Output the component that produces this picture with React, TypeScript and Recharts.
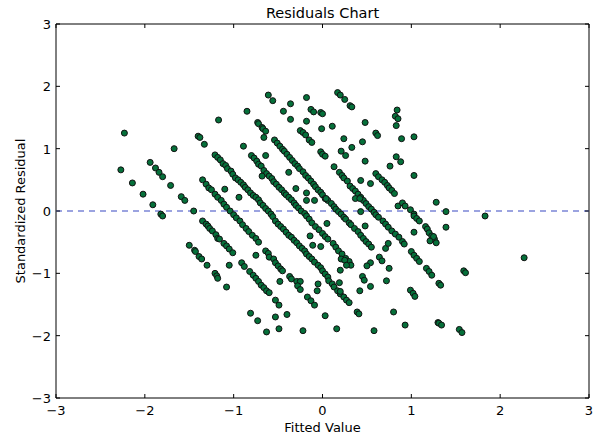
import { ReferenceArea, ReferenceLine, Scatter, ScatterChart, XAxis, YAxis } from "recharts";

// residual bands, [fitted, standardized residual]
const bandA: [number, number][] = [
  [-2.27, 0.66], [-2.14, 0.45], [-2.02, 0.27], [-1.91, 0.1], [-1.82, -0.05], [-1.8, -0.08],
  [-1.5, -0.55], [-1.44, -0.63], [-1.43, -0.65], [-1.39, -0.73], [-1.36, -0.77], [-1.3, -0.87],
  [-1.21, -1.0], [-1.19, -1.04], [-1.18, -1.08], [-1.08, -1.22], [-0.81, -1.64], [-0.73, -1.76],
  [-0.63, -1.94],
];

const bandB: [number, number][] = [
  [-1.94, 0.78], [-1.88, 0.69], [-1.84, 0.62], [-1.8, 0.55], [-1.71, 0.41], [-1.59, 0.23],
  [-1.55, 0.17], [-1.45, 0.0], [-1.35, -0.16], [-1.31, -0.21], [-1.29, -0.24], [-1.27, -0.28],
  [-1.24, -0.32], [-1.2, -0.38], [-1.18, -0.44], [-1.16, -0.45], [-1.11, -0.52], [-1.08, -0.56],
  [-1.05, -0.61], [-1.01, -0.67], [-0.91, -0.83], [-0.88, -0.89], [-0.82, -0.97], [-0.78, -1.03],
  [-0.75, -1.08], [-0.72, -1.13], [-0.69, -1.19], [-0.66, -1.23], [-0.63, -1.28], [-0.6, -1.31],
  [-0.53, -1.43], [-0.49, -1.51], [-0.4, -1.66], [-0.22, -1.92],
];

const bandC: [number, number][] = [
  [-1.67, 1.0], [-1.35, 0.5], [-1.31, 0.43], [-1.28, 0.37], [-1.25, 0.34], [-1.21, 0.27],
  [-1.18, 0.22], [-1.14, 0.17], [-1.11, 0.11], [-1.08, 0.06], [-1.04, 0.0], [-1.0, -0.06],
  [-0.97, -0.11], [-0.93, -0.16], [-0.9, -0.22], [-0.86, -0.28], [-0.83, -0.33], [-0.79, -0.39],
  [-0.75, -0.44], [-0.72, -0.5], [-0.64, -0.64], [-0.61, -0.68], [-0.6, -0.74], [-0.55, -0.77],
  [-0.53, -0.83], [-0.5, -0.88], [-0.47, -0.93], [-0.45, -0.96], [-0.37, -1.05], [-0.35, -1.09],
  [-0.29, -1.13], [-0.25, -1.13], [-0.28, -1.2], [-0.25, -1.26], [-0.17, -1.38], [-0.13, -1.44],
  [-0.09, -1.51], [0.03, -1.68], [0.16, -1.89],
];

const bandD: [number, number][] = [
  [-1.4, 1.2], [-1.38, 1.18], [-1.33, 1.07], [-1.21, 0.9], [-1.18, 0.86], [-1.15, 0.82],
  [-1.12, 0.76], [-1.09, 0.73], [-1.07, 0.68], [-1.03, 0.64], [-1.01, 0.59], [-0.98, 0.53],
  [-0.95, 0.5], [-0.92, 0.46], [-0.89, 0.42], [-0.87, 0.38], [-0.84, 0.34], [-0.81, 0.29],
  [-0.78, 0.25], [-0.75, 0.22], [-0.72, 0.18], [-0.7, 0.13], [-0.67, 0.09], [-0.64, 0.04],
  [-0.61, 0.0], [-0.58, -0.05], [-0.56, -0.09], [-0.53, -0.16], [-0.5, -0.21], [-0.47, -0.25],
  [-0.44, -0.29], [-0.41, -0.34], [-0.38, -0.39], [-0.35, -0.42], [-0.32, -0.47], [-0.29, -0.51],
  [-0.26, -0.56], [-0.23, -0.6], [-0.2, -0.64], [-0.18, -0.69], [-0.15, -0.73], [-0.12, -0.77],
  [-0.09, -0.82], [-0.05, -0.87], [-0.02, -0.91], [0.0, -0.96], [0.03, -1.01], [0.06, -1.06],
  [0.07, -1.12], [0.11, -1.17], [0.13, -1.22], [0.17, -1.28], [0.2, -1.33], [0.24, -1.38],
  [0.27, -1.43], [0.3, -1.47], [0.39, -1.62], [0.41, -1.65], [0.58, -1.92],
];

const bandE: [number, number][] = [
  [-1.17, 1.46], [-0.89, 1.04], [-0.8, 0.89], [-0.77, 0.85], [-0.74, 0.8], [-0.72, 0.75],
  [-0.69, 0.72], [-0.66, 0.65], [-0.63, 0.6], [-0.6, 0.56], [-0.57, 0.52], [-0.55, 0.47],
  [-0.52, 0.43], [-0.49, 0.38], [-0.46, 0.34], [-0.43, 0.29], [-0.41, 0.26], [-0.38, 0.22],
  [-0.35, 0.18], [-0.32, 0.13], [-0.3, 0.09], [-0.27, 0.05], [-0.24, 0.0], [-0.2, -0.04],
  [-0.18, -0.08], [-0.15, -0.13], [-0.12, -0.19], [-0.08, -0.25], [-0.04, -0.3], [0.0, -0.36],
  [0.03, -0.41], [0.06, -0.45], [0.12, -0.52], [0.15, -0.58], [0.18, -0.64], [0.22, -0.69],
  [0.26, -0.76], [0.3, -0.81], [0.32, -0.87], [0.21, -0.77], [0.45, -1.05], [0.47, -1.11],
  [0.54, -1.21], [0.8, -1.62], [0.93, -1.83],
];

const bandF: [number, number][] = [
  [-0.85, 1.6], [-0.73, 1.42], [-0.72, 1.4], [-0.68, 1.34], [-0.67, 1.32], [-0.64, 1.28],
  [-0.54, 1.14], [-0.51, 1.09], [-0.48, 1.04], [-0.45, 0.99], [-0.43, 0.96], [-0.4, 0.91],
  [-0.37, 0.86], [-0.34, 0.81], [-0.31, 0.76], [-0.28, 0.72], [-0.26, 0.68], [-0.22, 0.63],
  [-0.19, 0.57], [-0.16, 0.53], [-0.13, 0.48], [-0.1, 0.43], [-0.08, 0.39], [-0.05, 0.34],
  [-0.02, 0.3], [0.0, 0.26], [0.03, 0.2], [0.06, 0.17], [0.1, 0.12], [0.13, 0.07],
  [0.15, 0.03], [0.18, -0.01], [0.21, -0.05], [0.24, -0.1], [0.26, -0.13], [0.3, -0.19],
  [0.32, -0.22], [0.36, -0.28], [0.4, -0.33], [0.43, -0.39], [0.46, -0.44], [0.49, -0.49],
  [0.52, -0.53], [0.55, -0.58], [0.64, -0.74], [0.67, -0.8], [0.75, -0.92], [0.99, -1.27],
  [1.02, -1.32], [1.04, -1.37], [1.3, -1.79], [1.31, -1.8], [1.34, -1.83], [1.54, -1.9],
  [1.57, -1.95],
];

const bandG: [number, number][] = [
  [-0.61, 1.86], [-0.56, 1.77], [-0.44, 1.6], [-0.25, 1.29], [-0.22, 1.26], [-0.19, 1.22],
  [-0.15, 1.14], [-0.12, 1.1], [-0.02, 0.95], [0.0, 0.91], [0.03, 0.88], [0.13, 0.71],
  [0.19, 0.62], [0.22, 0.57], [0.24, 0.53], [0.28, 0.48], [0.31, 0.4], [0.34, 0.36],
  [0.37, 0.32], [0.4, 0.27], [0.43, 0.22], [0.46, 0.17], [0.49, 0.12], [0.52, 0.07],
  [0.55, 0.03], [0.58, -0.02], [0.6, -0.06], [0.63, -0.1], [0.68, -0.16], [0.71, -0.21],
  [0.74, -0.26], [0.78, -0.32], [0.82, -0.37], [0.86, -0.42], [0.9, -0.49], [0.92, -0.53],
  [1.0, -0.65], [1.03, -0.71], [1.06, -0.76], [1.09, -0.81], [1.17, -0.92], [1.2, -0.97],
  [1.23, -1.03], [1.31, -1.16], [1.33, -1.19], [0.37, 0.2], [0.42, 0.2],
];

const bandH: [number, number][] = [
  [-0.18, 1.82], [-0.13, 1.63], [-0.1, 1.59], [-0.02, 1.58], [0.0, 1.56], [0.11, 1.36],
  [0.24, 1.16], [0.33, 1.02], [0.48, 0.8], [0.6, 0.6], [0.63, 0.55], [0.67, 0.5],
  [0.7, 0.46], [0.73, 0.41], [0.75, 0.37], [0.78, 0.33], [0.81, 0.28], [0.85, 0.08],
  [0.9, 0.13], [0.93, 0.08], [0.99, 0.02], [1.03, -0.05], [1.03, -0.08], [1.06, -0.12],
  [1.09, -0.16], [1.16, -0.25], [1.18, -0.29], [1.2, -0.35], [1.23, -0.4], [1.26, -0.45],
  [1.28, -0.51], [1.21, -0.48], [1.25, -0.41], [1.59, -0.96], [1.61, -0.99],
];

const bandI: [number, number][] = [
  [0.17, 1.9], [0.2, 1.86], [0.25, 1.79], [0.31, 1.69], [0.33, 1.67], [0.48, 1.42],
  [0.6, 1.25], [0.62, 1.21], [0.83, 0.87], [0.88, 0.79], [1.03, 0.57], [1.28, 0.14],
  [1.39, -0.01], [1.39, -0.26],
];

const bandJ: [number, number][] = [
  [0.84, 1.62], [0.82, 1.52], [0.85, 1.48], [0.83, 1.37], [0.89, 1.16], [1.03, 1.19],
  [1.83, -0.08], [2.27, -0.75],
];

const scattered: [number, number][] = [
  [-2.23, 1.25], [-1.05, -0.87], [-0.49, -1.89], [-1.1, 0.35], [-0.94, 0.22], [-0.75, -0.71],
  [-0.48, -1.13], [-0.05, -1.17], [-0.06, -1.28], [-0.53, -1.7], [0.19, -1.15], [0.2, -1.29],
  [0.25, -0.79], [0.27, -0.87], [0.2, -0.95], [-0.68, 0.56], [-0.3, 0.36], [-0.18, 0.29],
  [-0.18, 0.17], [-0.09, 0.17], [0.04, 0.2], [0.05, -0.2], [-0.14, -0.4], [-0.11, -0.55],
  [-0.02, -0.57], [-0.66, 1.18], [-0.64, 0.89], [-0.38, 0.62], [0.72, -1.12], [0.42, -1.28],
  [0.48, -0.24], [0.54, -0.83], [0.5, -0.88], [0.71, -0.6], [0.74, -0.52], [0.43, -0.01],
  [0.21, 0.96], [0.26, 0.89], [0.45, 1.11], [-0.01, 1.32], [0.76, 0.72], [0.43, 0.49],
  [0.54, 0.44], [1.03, -0.34], [-0.36, 1.72], [-0.36, 1.47], [-0.18, 1.44],
];

const xTicks = [-3, -2, -1, 0, 1, 2, 3];
const yTicks = [-3, -2, -1, 0, 1, 2, 3];

const points = [
  ...bandA, ...bandB, ...bandC, ...bandD, ...bandE,
  ...bandF, ...bandG, ...bandH, ...bandI, ...bandJ, ...scattered,
].map(([x, y]) => ({ x, y }));

const W = 594;
const H = 437;
const PLOT_LEFT = 56;
const PLOT_RIGHT = 589;
const PLOT_TOP = 24;
const font = "'DejaVu Sans', sans-serif";
const fmt = (v: number) => (v < 0 ? `\u2212${Math.abs(v)}` : `${v}`);

function XTick({ x, y, payload }: any) {
  return (
    <g>
      <line x1={x} x2={x} y1={y} y2={y - 4} stroke="#000" />
      <line x1={x} x2={x} y1={PLOT_TOP} y2={PLOT_TOP + 4} stroke="#000" />
      <text x={x} y={y + 17} textAnchor="middle" fontSize={13} fontFamily={font} fill="#000">
        {fmt(payload.value)}
      </text>
    </g>
  );
}

function YTick({ x, y, payload }: any) {
  return (
    <g>
      <line x1={x} x2={x + 4} y1={y} y2={y} stroke="#000" />
      <line x1={PLOT_RIGHT - 4} x2={PLOT_RIGHT} y1={y} y2={y} stroke="#000" />
      <text x={x - 5} y={y + 5} textAnchor="end" fontSize={13} fontFamily={font} fill="#000">
        {fmt(payload.value)}
      </text>
    </g>
  );
}

const Dot = ({ cx, cy }: any) => (
  <circle cx={cx} cy={cy} r={3} fill="#05703a" stroke="#111" strokeWidth={1} />
);

export default function App() {
  return (
    <div style={{ position: "absolute", left: 0, top: 0, width: W, height: H, background: "#fff" }}>
      <div
        style={{
          position: "absolute",
          left: PLOT_LEFT,
          width: PLOT_RIGHT - PLOT_LEFT,
          top: 5,
          textAlign: "center",
          fontFamily: font,
          fontSize: 14.5,
          color: "#000",
        }}
      >
        Residuals Chart
      </div>
      <ScatterChart width={W} height={H} margin={{ top: PLOT_TOP, right: W - PLOT_RIGHT, bottom: 0, left: 0 }}>
        <XAxis
          type="number"
          dataKey="x"
          domain={[-3, 3]}
          ticks={xTicks}
          height={39}
          axisLine={false}
          tickLine={false}
          tickSize={0}
          tickMargin={0}
          tick={<XTick />}
          label={{ value: "Fitted Value", position: "insideBottom", offset: 5, fontSize: 13, fontFamily: font, fill: "#000" }}
        />
        <YAxis
          type="number"
          dataKey="y"
          domain={[-3, 3]}
          ticks={yTicks}
          width={PLOT_LEFT}
          axisLine={false}
          tickLine={false}
          tickSize={0}
          tickMargin={0}
          tick={<YTick />}
          label={{
            value: "Standardized Residual",
            angle: -90,
            position: "insideLeft",
            offset: 20,
            fontSize: 13,
            fontFamily: font,
            fill: "#000",
            style: { textAnchor: "middle" },
          }}
        />
        <ReferenceArea x1={-3} x2={3} y1={-3} y2={3} fill="none" stroke="#000" strokeWidth={1} />
        <ReferenceLine y={0} stroke="#7b85d6" strokeWidth={1.3} strokeDasharray="6 5" />
        <Scatter data={points} shape={<Dot />} isAnimationActive={false} />
      </ScatterChart>
    </div>
  );
}
